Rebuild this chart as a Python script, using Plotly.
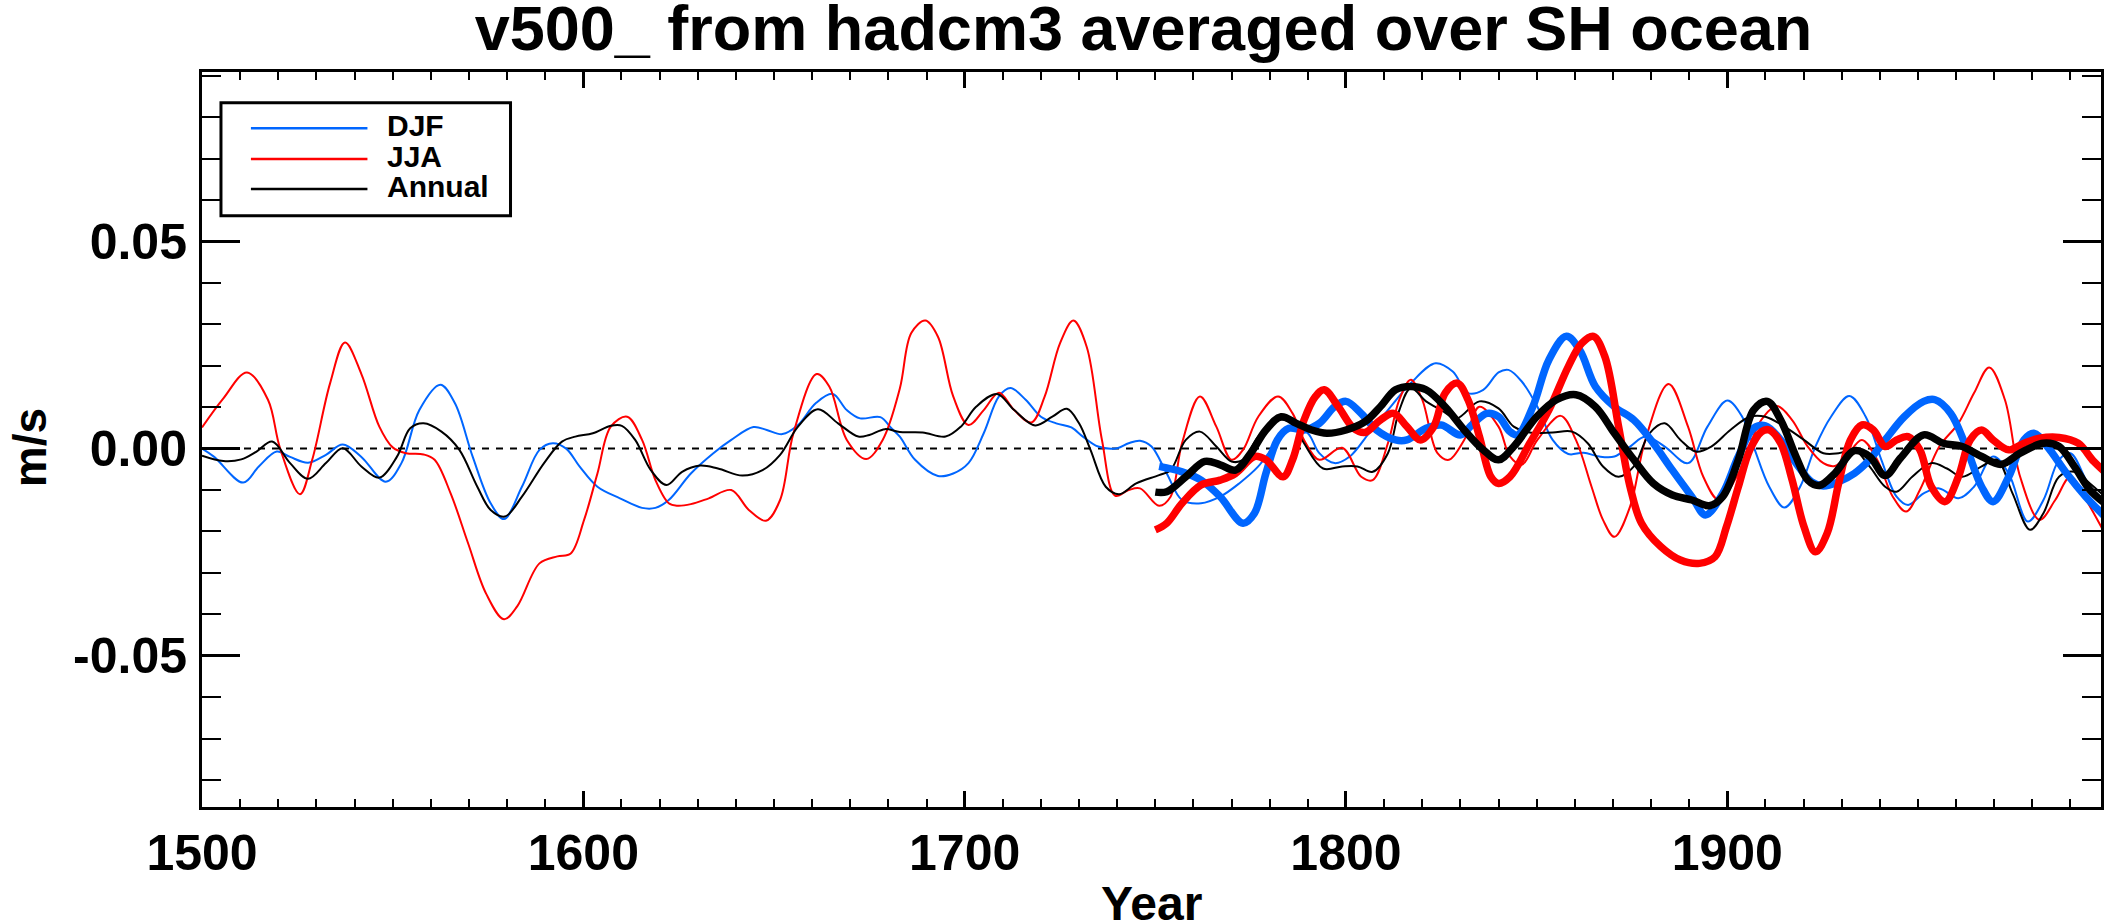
import plotly.graph_objects as go

# ---------------- data ----------------
djf_years = [1500, 1503.2, 1510.8, 1514.9, 1519.6, 1523.1, 1527.8, 1532.5, 1536.9, 1541.8, 1548.2, 1552.3,
             1557, 1562.5, 1566.3, 1571, 1575.7, 1579.2, 1583.9, 1588.5, 1592, 1595.5, 1599, 1603.7, 1609.6,
             1615.4, 1618.9, 1622.4, 1628.2, 1634.1, 1638.8, 1644.6, 1648.1, 1652.2, 1656.3, 1661, 1665.4,
             1669.1, 1672.6, 1677.9, 1680.8, 1683, 1687, 1693, 1697, 1701, 1705, 1709, 1712, 1716, 1720, 1724,
             1728, 1731, 1735, 1740, 1743, 1746, 1749, 1753, 1757, 1762, 1767, 1772, 1777, 1781, 1786, 1790,
             1793, 1797, 1801, 1806, 1811, 1817, 1823.5, 1828, 1832, 1836, 1840, 1842.6, 1846.1, 1850.2,
             1854.2, 1858.3, 1862.3, 1866.4, 1870.4, 1874.5, 1878.5, 1883.6, 1889.7, 1894.8, 1900, 1903.9,
             1906.9, 1911, 1915, 1919.1, 1923.1, 1927.2, 1932, 1936.3, 1940.4, 1944.4, 1947.4, 1951.5, 1955.6,
             1960.6, 1964.7, 1969.7, 1973.8, 1978.8, 1982.9, 1987, 1990, 1995.1, 1999]
djf_vals = [0.0, -0.002, -0.0082, -0.0043, -0.0007, -0.002, -0.0034, -0.0015, 0.001, -0.002, -0.008, -0.0035,
            0.0093, 0.0154, 0.011, -0.002, -0.0132, -0.017, -0.0092, -0.0003, 0.0013, 0.0, -0.0043, -0.0092,
            -0.012, -0.0143, -0.0143, -0.0124, -0.006, -0.0011, 0.0021, 0.0052, 0.0045, 0.0035, 0.0057, 0.011,
            0.0132, 0.0093, 0.0073, 0.0076, 0.0049, 0.0029, -0.0027, -0.0066, -0.006, -0.0035, 0.0037, 0.0126,
            0.0146, 0.0118, 0.0077, 0.0061, 0.0051, 0.0029, 0.0005, 0.0001, 0.0013, 0.0019, 0.0005, -0.006,
            -0.0124, -0.0132, -0.0116, -0.0084, -0.0043, 0.0005, 0.0053, 0.0037, -0.0011, -0.0035, -0.0019,
            0.0037, 0.0093, 0.0158, 0.0206, 0.0186, 0.0134, 0.0142, 0.0184, 0.019, 0.0162, 0.0101, 0.0021,
            -0.0013, -0.001, -0.0019, -0.0019, 0.0005, 0.0029, 0.0005, -0.0035, 0.0053, 0.0116, 0.0077, 0.0005,
            -0.0092, -0.0142, -0.0092, 0.0005, 0.0077, 0.0127, 0.0077, -0.0027, -0.0116, -0.0136, -0.0108,
            -0.0096, -0.012, -0.0092, -0.0019, -0.006, -0.0176, -0.0124, -0.0027, -0.0011, -0.0092, -0.0124]

jja_years = [1500, 1505.5, 1511.8, 1517.3, 1520.5, 1525.7, 1528.9, 1533.6, 1537.5, 1541.8, 1546.5, 1550,
             1553.5, 1558.1, 1561, 1565.2, 1569.8, 1574.5, 1579.2, 1582.7, 1588.5, 1593.2, 1596.7, 1600.2,
             1603.7, 1607.2, 1611.5, 1615.4, 1618.9, 1622.4, 1624.7, 1628.2, 1632.9, 1638.8, 1643.4, 1647.9,
             1651.6, 1655.1, 1661.2, 1664.5, 1669.1, 1674.2, 1678.5, 1683, 1686, 1689.7, 1693, 1697, 1701, 1705,
             1709, 1713, 1717.5, 1721, 1725, 1728.5, 1732, 1736, 1739.5, 1743, 1746, 1751, 1754, 1757, 1761.7,
             1766, 1770, 1773, 1777, 1782.2, 1786, 1789, 1793, 1799, 1804, 1807, 1811, 1814, 1817, 1820, 1824,
             1827, 1831, 1835, 1840, 1843, 1846.1, 1850.2, 1856.3, 1860.3, 1864.4, 1867.4, 1870.4, 1874.5,
             1878.5, 1884.6, 1889.7, 1893.7, 1897.8, 1902.9, 1908.9, 1913, 1917, 1921.1, 1925.2, 1928.2, 1931.2,
             1935.3, 1939.3, 1943.4, 1946.9, 1950.5, 1955.6, 1960.6, 1964.7, 1968.7, 1972.8, 1976.8, 1981.9,
             1986, 1990, 1994.1, 1999]
jja_vals = [0.0051, 0.012, 0.0184, 0.0118, 0.0, -0.011, -0.0027, 0.0158, 0.0256, 0.018, 0.0053, 0.0003,
            -0.0011, -0.0014, -0.0027, -0.0108, -0.0229, -0.035, -0.0412, -0.038, -0.0277, -0.026, -0.0253,
            -0.0172, -0.006, 0.0053, 0.0077, 0.0021, -0.0076, -0.0132, -0.0138, -0.0134, -0.012, -0.01, -0.0148,
            -0.0174, -0.0124, 0.0037, 0.018, 0.015, 0.0021, -0.0025, 0.0021, 0.0145, 0.0279, 0.0309, 0.027,
            0.0126, 0.0057, 0.0093, 0.0135, 0.0093, 0.0063, 0.0126, 0.0254, 0.0309, 0.0246, 0.0021, -0.0114,
            -0.01, -0.0096, -0.0138, -0.0116, 0.0013, 0.0126, 0.0053, -0.0027, -0.0003, 0.0077, 0.0126, 0.0085,
            0.0021, -0.0027, 0.0002, -0.0068, -0.0076, 0.0013, 0.0118, 0.0166, 0.0118, -0.0011, -0.0027, 0.0021,
            0.0101, 0.0053, -0.0019, -0.0039, 0.0021, 0.0079, 0.0021, -0.0092, -0.0172, -0.0213, -0.014, 0.0021,
            0.0156, 0.0053, -0.0068, -0.0124, -0.006, 0.0069, 0.0103, 0.0069, 0.0005, -0.0035, -0.0042, -0.0019,
            0.0021, -0.0027, -0.0116, -0.0152, -0.01, 0.0005, 0.0061, 0.0134, 0.0196, 0.0118, -0.0068, -0.0172,
            -0.0124, -0.0068, -0.0124, -0.0205]

ann_years = [1500, 1505.6, 1510.3, 1514.3, 1518.4, 1523.1, 1527.8, 1532.5, 1536.9, 1541.8, 1546.5, 1551.1,
             1554.6, 1558.1, 1562.8, 1567.5, 1572.2, 1575.7, 1579.4, 1583.9, 1589.7, 1594.4, 1597.9, 1602.5,
             1607.2, 1610.1, 1613.6, 1617.7, 1621.8, 1625.9, 1630.6, 1635.3, 1641.7, 1647, 1651.6, 1656.3,
             1661.5, 1666.8, 1672.1, 1675, 1679.1, 1683, 1689, 1695, 1699, 1703, 1708.5, 1713, 1718.5, 1723,
             1726.8, 1730, 1733, 1737, 1740.5, 1745, 1751, 1754, 1758, 1761.7, 1766, 1770, 1773, 1777, 1782,
             1786, 1789, 1794, 1799, 1803, 1807, 1811, 1814, 1817, 1821, 1825, 1829, 1835, 1840, 1844, 1848.2,
             1854.2, 1859.3, 1863.4, 1867.4, 1871.5, 1875.5, 1879.6, 1883.6, 1887.7, 1891.7, 1895.8, 1900.8,
             1905.9, 1910, 1915, 1920.1, 1925.2, 1929.2, 1933.3, 1937.3, 1941.4, 1944.4, 1948.5, 1953.5, 1957.6,
             1961.6, 1966.7, 1970.7, 1974.8, 1979.4, 1982.9, 1987, 1991, 1995.1, 1999]
ann_vals = [-0.0017, -0.003, -0.0026, -0.0007, 0.0017, -0.0035, -0.0073, -0.0035, 0.0001, -0.0043, -0.007,
            -0.002, 0.0049, 0.0061, 0.0041, -0.0003, -0.0092, -0.0148, -0.0164, -0.0116, -0.0035, 0.0017,
            0.0029, 0.0037, 0.0055, 0.0055, 0.0021, -0.0052, -0.0088, -0.0056, -0.0041, -0.0048, -0.0065,
            -0.0052, -0.0015, 0.0053, 0.0095, 0.0061, 0.0029, 0.0033, 0.0047, 0.004, 0.0039, 0.0029, 0.0053,
            0.0101, 0.0132, 0.0093, 0.0056, 0.0077, 0.0096, 0.0061, -0.0003, -0.0092, -0.011, -0.0084, -0.0064,
            -0.0052, 0.0021, 0.0041, 0.0005, -0.0031, -0.0027, 0.0029, 0.0069, 0.0061, 0.0013, -0.0048, -0.0043,
            -0.0043, -0.0056, -0.0011, 0.0093, 0.0146, 0.0114, 0.0093, 0.0073, 0.0114, 0.0097, 0.0053, 0.0039,
            0.0039, 0.0041, 0.0013, -0.0043, -0.0068, -0.0043, 0.0037, 0.0061, 0.0021, -0.0007, 0.0005, 0.0045,
            0.0077, 0.0077, 0.0053, 0.0021, -0.0011, -0.0011, -0.0003, -0.0043, -0.0092, -0.0104, -0.0068,
            -0.0035, -0.0048, -0.0068, -0.0043, -0.0027, -0.0108, -0.0196, -0.0156, -0.0068, -0.0056, -0.0084,
            -0.0116]

# smoothed (thick) curves, 1750 onwards
djf_s_years = [1751, 1757, 1762, 1767, 1773, 1776, 1779, 1782, 1785, 1789, 1793, 1797, 1800, 1804, 1808, 1813,
               1816, 1821, 1825, 1830, 1833, 1837, 1840, 1843, 1845, 1849, 1853.2, 1857.8, 1861.3, 1865.4,
               1870.4, 1875.5, 1880.6, 1885.6, 1890.7, 1894.3, 1898.8, 1902.9, 1906.9, 1910, 1914, 1918,
               1922.1, 1925.2, 1929.2, 1933.3, 1937.3, 1941.4, 1946.4, 1951.5, 1954.5, 1958.6, 1962.6, 1966.7,
               1969.7, 1973.8, 1977.8, 1980.4, 1983.9, 1989, 1994, 1999]
djf_s_vals = [-0.0043, -0.0056, -0.0076, -0.0116, -0.018, -0.0156, -0.006, 0.0021, 0.0049, 0.0045, 0.0061,
              0.0101, 0.0114, 0.0085, 0.0045, 0.0021, 0.0021, 0.0049, 0.0057, 0.0033, 0.0057, 0.0085, 0.0077,
              0.0041, 0.0033, 0.0101, 0.0214, 0.0271, 0.0238, 0.015, 0.0101, 0.0069, 0.0013, -0.0052, -0.0116,
              -0.016, -0.0108, -0.0019, 0.0049, 0.0055, 0.0021, -0.0035, -0.008, -0.009, -0.008, -0.006,
              -0.0027, 0.0021, 0.0077, 0.0114, 0.0118, 0.0085, 0.0005, -0.0092, -0.0128, -0.0068, 0.0021,
              0.0037, 0.0005, -0.006, -0.0116, -0.0164]

jja_s_years = [1750, 1753, 1757, 1762, 1767, 1771, 1776, 1779, 1783.5, 1786, 1789, 1792, 1794.3, 1798, 1802,
               1805, 1809, 1812.5, 1816, 1819.5, 1823, 1826, 1829.2, 1832, 1835, 1838, 1840, 1843, 1848.2,
               1853.2, 1858.3, 1861.8, 1864.9, 1867.9, 1871.5, 1874.5, 1877.5, 1882.6, 1887.7, 1892.7, 1896.8,
               1899.8, 1902.9, 1905.9, 1909, 1911, 1914, 1917, 1920.1, 1923.1, 1926.2, 1929.2, 1932.3, 1935.3,
               1938.3, 1941.4, 1944.4, 1947.4, 1950.5, 1953.5, 1957.1, 1960.6, 1963.7, 1966.7, 1969.7, 1973.8,
               1977.8, 1981.9, 1987, 1992, 1996.1, 1999]
jja_s_vals = [-0.0196, -0.018, -0.0132, -0.0088, -0.0076, -0.006, -0.0019, -0.0027, -0.0068, -0.0027, 0.0069,
              0.0126, 0.0142, 0.0101, 0.0049, 0.0039, 0.0069, 0.0085, 0.0053, 0.0021, 0.0053, 0.0134, 0.0158,
              0.0118, 0.0029, -0.0068, -0.0084, -0.0068, 0.0013, 0.0093, 0.0198, 0.0254, 0.0271, 0.0222, 0.0053,
              -0.0092, -0.018, -0.0237, -0.0269, -0.0277, -0.0261, -0.0188, -0.0092, -0.0003, 0.0041, 0.0045,
              0.0013, -0.0076, -0.0188, -0.0249, -0.0204, -0.0084, 0.0021, 0.0057, 0.0045, 0.0005, 0.0021,
              0.0029, -0.0003, -0.0092, -0.0128, -0.0068, 0.0021, 0.0045, 0.0021, -0.0003, 0.0013, 0.0025,
              0.0027, 0.0013, -0.0031, -0.0056]

ann_s_years = [1750, 1753, 1758, 1763, 1767, 1771, 1775, 1779, 1783, 1787, 1791, 1795, 1800, 1805, 1809, 1813,
               1817, 1821, 1826, 1831, 1836, 1840, 1844, 1850, 1855.2, 1860.3, 1865.4, 1870.4, 1875.5, 1880.6,
               1885.6, 1890.7, 1895.3, 1898.8, 1902.9, 1906.9, 1910.5, 1914, 1918, 1921.1, 1924.1, 1928.2,
               1933.3, 1937.3, 1941.4, 1945.4, 1951.5, 1956.6, 1961.6, 1966.7, 1971.8, 1976.8, 1982.9, 1987,
               1991, 1995.1, 1999]
ann_s_vals = [-0.0105, -0.0104, -0.0068, -0.0031, -0.0039, -0.0052, -0.0011, 0.0045, 0.0077, 0.0061, 0.0045,
              0.0037, 0.0045, 0.0065, 0.0101, 0.0142, 0.015, 0.0142, 0.0101, 0.0045, -0.0003, -0.0027, 0.0005,
              0.0077, 0.0118, 0.013, 0.0101, 0.0037, -0.0027, -0.0084, -0.0112, -0.0124, -0.0138, -0.0116,
              -0.0027, 0.0093, 0.0114, 0.0069, -0.0019, -0.0076, -0.0089, -0.006, -0.0005, -0.0019, -0.0065,
              -0.0023, 0.0033, 0.0013, 0.0005, -0.0019, -0.0038, -0.0011, 0.0013, 0.0005, -0.0043, -0.01,
              -0.0132]

series_names = ["DJF", "JJA", "Annual"]
series_colors = ["#0066FF", "#FF0000", "#000000"]
title_text = "v500_ from hadcm3 averaged over SH ocean"
x_label = "Year"
y_label = "m/s"
x_range = [1500, 1998]
y_range = [-0.0865, 0.0909]
y_tickvals = [-0.05, 0.0, 0.05]
y_ticktext = ["-0.05", "0.00", "0.05"]

# ---------------- figure ----------------
FONT = "Liberation Sans"
W, H = 2107, 924
L, R, T, B = 202, 3, 72, 117
PW, PH = W - L - R, H - T - B


def px_x(px):
    return (px - L) / PW


def px_y(py):
    return (H - B - py) / PH


fig = go.Figure()

thin = [(djf_years, djf_vals), (jja_years, jja_vals), (ann_years, ann_vals)]
thick = [(djf_s_years, djf_s_vals), (jja_s_years, jja_s_vals), (ann_s_years, ann_s_vals)]

for (xs, ys), name, col in zip(thin, series_names, series_colors):
    fig.add_trace(go.Scatter(x=xs, y=ys, mode="lines", name=name, showlegend=False,
                             line=dict(color=col, width=2, shape="spline", smoothing=1.0)))
for (xs, ys), name, col in zip(thick, series_names, series_colors):
    fig.add_trace(go.Scatter(x=xs, y=ys, mode="lines", name=name + " smoothed", showlegend=False,
                             line=dict(color=col, width=7.5, shape="spline", smoothing=1.0)))

# dotted zero line
fig.add_shape(type="line", xref="paper", x0=0, x1=1, yref="y", y0=0, y1=0,
              line=dict(color="black", width=2, dash="7px,7px"), layer="below")

# legend box (manual, IDL style)
fig.add_shape(type="rect", xref="paper", yref="paper",
              x0=px_x(221), x1=px_x(511), y0=px_y(215.7), y1=px_y(102.7),
              line=dict(color="black", width=3), fillcolor="white")
leg_line_y = [128.3, 159, 189]
for name, col, ly in zip(series_names, series_colors, leg_line_y):
    fig.add_shape(type="line", xref="paper", yref="paper",
                  x0=px_x(251), x1=px_x(367.7), y0=px_y(ly), y1=px_y(ly),
                  line=dict(color=col, width=2.5))
    fig.add_annotation(x=px_x(385), y=px_y(ly - 3), xref="paper", yref="paper",
                       text=name, showarrow=False, xanchor="left", yanchor="middle",
                       font=dict(family=FONT, size=30, color="black", weight="bold"))

# axis titles
fig.add_annotation(x=0.5, y=px_y(903), xref="paper", yref="paper", text=x_label,
                   showarrow=False, xanchor="center", yanchor="middle",
                   font=dict(family=FONT, size=48, color="black", weight="bold"))
fig.add_annotation(x=px_x(30), y=px_y(448), xref="paper", yref="paper", text=y_label,
                   showarrow=False, xanchor="center", yanchor="middle", textangle=-90,
                   font=dict(family=FONT, size=46, color="black", weight="bold"))

axis_common = dict(showline=True, linecolor="black", linewidth=3, mirror="allticks",
                   ticks="inside", tickcolor="black", showgrid=False, zeroline=False)

fig.update_layout(
    width=W, height=H,
    margin=dict(l=L, r=R, t=T, b=B, pad=0),
    paper_bgcolor="white", plot_bgcolor="white",
    showlegend=False,
    font=dict(family=FONT, color="black", weight="bold"),
    title=dict(text=title_text, x=px_x(1145), xref="paper", xanchor="center",
               y=1 - 28 / H, yref="container", yanchor="middle",
               font=dict(family=FONT, size=63, color="black", weight="bold")),
    xaxis=dict(range=x_range, tick0=1500, dtick=100, ticklen=16, tickwidth=2.5,
               tickfont=dict(family=FONT, size=50, color="black", weight="bold"),
               ticklabelstandoff=0,
               minor=dict(ticks="inside", dtick=10, tick0=1500, ticklen=8, tickwidth=2,
                          tickcolor="black", showgrid=False),
               **axis_common),
    yaxis=dict(range=y_range, tickmode="array", tickvals=y_tickvals, ticktext=y_ticktext,
               ticklen=38, tickwidth=2.5,
               tickfont=dict(family=FONT, size=50, color="black", weight="bold"),
               ticklabelstandoff=2,
               minor=dict(ticks="inside", dtick=0.01, tick0=0, ticklen=19, tickwidth=2,
                          tickcolor="black", showgrid=False),
               **axis_common),
)

fig.write_html("out.html", config={"displayModeBar": False},
               post_script="document.body.style.margin='0';document.body.style.overflow='hidden';")
